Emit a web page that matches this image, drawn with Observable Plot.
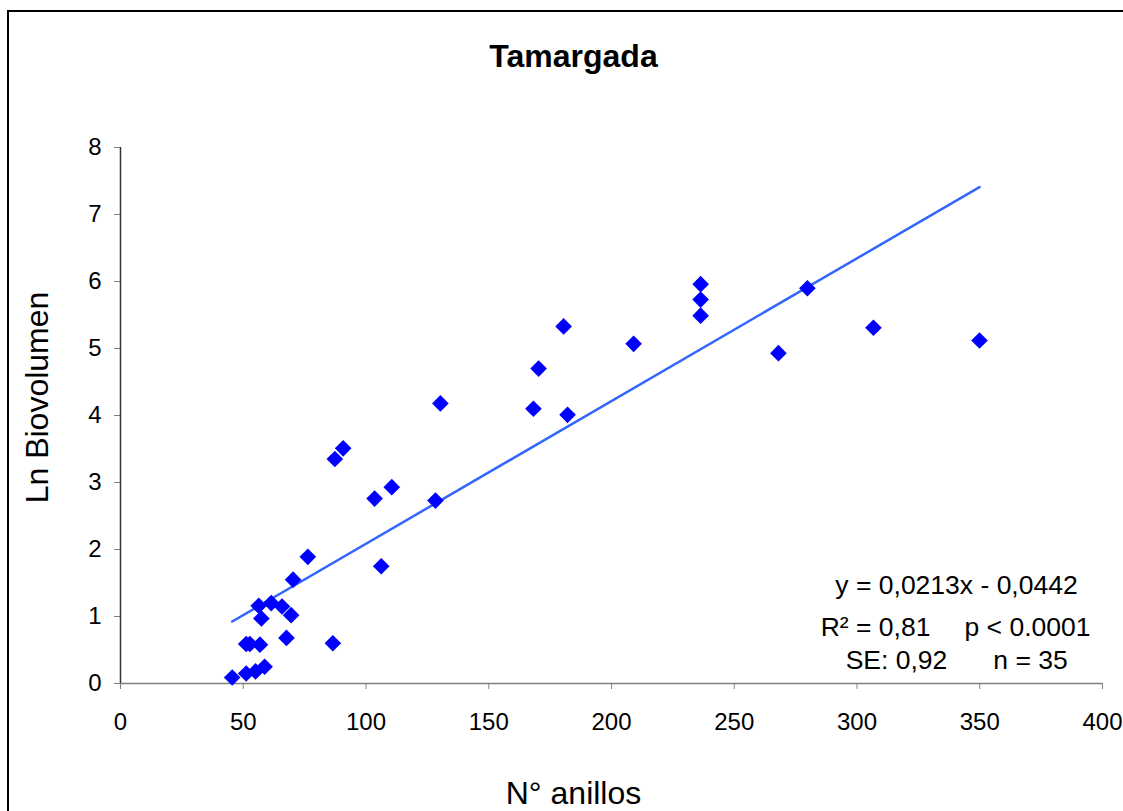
<!DOCTYPE html>
<html>
<head>
<meta charset="utf-8">
<script src="https://cdn.jsdelivr.net/npm/d3@7"></script>
<script src="https://cdn.jsdelivr.net/npm/@observablehq/plot@0.6"></script>
<style>
  html, body { margin: 0; padding: 0; background: #fff; overflow: hidden; }
  #wrap { position: relative; width: 1123px; height: 811px; }
  #frame { position: absolute; left: 7px; top: 10px; width: 1200px; height: 900px;
           border-left: 2px solid #000; border-top: 2px solid #000; box-sizing: border-box; pointer-events: none; }
</style>
</head>
<body>
<div id="wrap"><div id="frame"></div></div>
<script>
// Data (N° anillos vs Ln Biovolumen)
const anillos = [45.5, 51.2, 55.0, 58.7, 51.2, 52.7, 56.8, 67.6, 86.5, 57.4,
                 56.3, 61.4, 65.8, 69.5, 70.3, 76.3, 106.2, 90.7, 87.3, 103.5,
                 110.5, 128.3, 130.3, 168.2, 170.3, 180.5, 182.1, 209.0, 236.3, 236.3,
                 236.3, 268.0, 279.8, 306.7, 349.9];
const lnBiovolumen = [0.09, 0.15, 0.18, 0.25, 0.59, 0.59, 0.58, 0.68, 0.60, 0.97,
                      1.16, 1.20, 1.15, 1.02, 1.55, 1.89, 1.75, 3.51, 3.35, 2.76,
                      2.93, 2.73, 4.18, 4.10, 4.70, 5.33, 4.01, 5.07, 5.96, 5.73,
                      5.49, 4.93, 5.90, 5.31, 5.12];
const slope = 0.0213;
const intercept = -0.0442;
const xTicks = [0, 50, 100, 150, 200, 250, 300, 350, 400];
const yTicks = [0, 1, 2, 3, 4, 5, 6, 7, 8];
const title = "Tamargada";
const xLabel = "N° anillos";
const yLabel = "Ln Biovolumen";
const eqText = "y = 0,0213x - 0,0442";
const r2Text = "R² = 0,81";
const pText = "p < 0.0001";
const seText = "SE: 0,92";
const nText = "n = 35";

const points = anillos.map((x, i) => ({x, y: lnBiovolumen[i]}));
const xMin = d3.min(anillos), xMax = d3.max(anillos);
const fit = [xMin, xMax].map(x => ({x, y: slope * x + intercept}));

const font = "'Liberation Sans', Arial, sans-serif";
const chart = Plot.plot({
  width: 1123,
  height: 811,
  marginLeft: 120,
  marginRight: 21,
  marginTop: 147,
  marginBottom: 128,
  style: {fontFamily: font, fontSize: "24px", color: "#000", background: "transparent"},
  x: {domain: [0, 400]},
  y: {domain: [0, 8]},
  marks: [
    Plot.axisX({ticks: xTicks, tickSize: 6, tickPadding: 23, stroke: "#808080", fill: "#000",
                fontSize: 24, label: null, tickFormat: d => String(d)}),
    Plot.axisY({ticks: yTicks, tickSize: 6, tickPadding: 13, stroke: "#808080", fill: "#000",
                fontSize: 24, label: null, tickFormat: d => String(d)}),
    Plot.ruleY([0], {stroke: "#808080", strokeWidth: 1.5}),
    Plot.ruleX([0], {stroke: "#333", strokeWidth: 1.5}),
    Plot.line(fit, {x: "x", y: "y", stroke: "#3366ff", strokeWidth: 2.5}),
    Plot.dot(points, {x: "x", y: "y", symbol: "diamond2", r: 7.5, fill: "#0000ff", stroke: "none"}),
    Plot.text([title], {frameAnchor: "top", dx: -38, dy: -103, fontSize: 32, fontWeight: "bold", fill: "#000"}),
    Plot.text([xLabel], {frameAnchor: "bottom", dx: -38, dy: 120, fontSize: 32, fill: "#000"}),
    Plot.text([yLabel], {frameAnchor: "left", textAnchor: "middle", rotate: -90, dx: -83, dy: -18, fontSize: 32, fill: "#000"}),
    Plot.text([eqText], {frameAnchor: "bottom-right", textAnchor: "middle", dx: -146, dy: -90, fontSize: 26.5, fill: "#000"}),
    Plot.text([r2Text], {frameAnchor: "bottom-right", textAnchor: "middle", dx: -227, dy: -48, fontSize: 26.5, fill: "#000"}),
    Plot.text([pText], {frameAnchor: "bottom-right", textAnchor: "middle", dx: -75, dy: -48, fontSize: 26.5, fill: "#000"}),
    Plot.text([seText], {frameAnchor: "bottom-right", textAnchor: "middle", dx: -206, dy: -15, fontSize: 26.5, fill: "#000"}),
    Plot.text([nText], {frameAnchor: "bottom-right", textAnchor: "middle", dx: -72, dy: -15, fontSize: 26.5, fill: "#000"})
  ]
});
chart.style.position = "absolute";
chart.style.left = "0px";
chart.style.top = "0px";
document.getElementById("wrap").prepend(chart);
</script>
</body>
</html>
